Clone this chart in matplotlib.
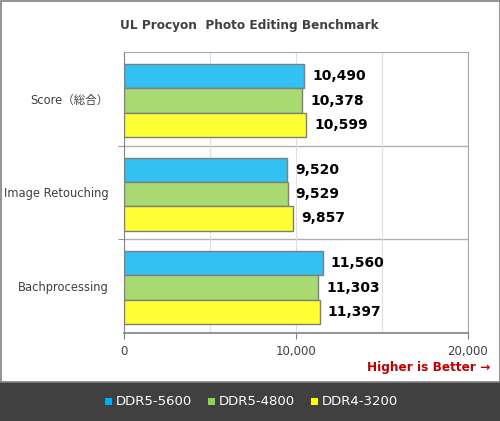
import matplotlib.pyplot as plt
import numpy as np
from matplotlib.patches import Rectangle

plt.rcParams['font.family'] = ['DejaVu Sans', 'Noto Sans CJK JP']

categories = ['Score（総合）', 'Image Retouching', 'Bachprocessing']
series = ['DDR5-5600', 'DDR5-4800', 'DDR4-3200']
ddr5_5600 = [10490, 9520, 11560]
ddr5_4800 = [10378, 9529, 11303]
ddr4_3200 = [10599, 9857, 11397]
values = [ddr5_5600, ddr5_4800, ddr4_3200]
bar_colors = ['#33C0F2', '#A9DA72', '#FFFF33']
legend_colors = ['#00B0F0', '#92D050', '#FFFF00']

fig = plt.figure(figsize=(5.0, 4.21), dpi=100)
W, H = 500, 421

# backgrounds: white chart area with border, dark legend band
fig.patches.append(Rectangle((0, 0), 1, 39 / H, transform=fig.transFigure,
                             facecolor='#404040', edgecolor='none', zorder=-10))
fig.patches.append(Rectangle((0.5 / W, 39 / H), 1 - 1 / W, 1 - 39.5 / H,
                             transform=fig.transFigure, facecolor='white',
                             edgecolor='#808080', lw=1.2, zorder=-10))

ax = fig.add_axes([123.5 / W, 1 - 332.5 / H, (468 - 123.5) / W, (332.5 - 52) / H])
ax.set_zorder(5)
ax.patch.set_alpha(0)
n = len(categories)
bh = 0.26
y = np.arange(n)
for i, (vals, col) in enumerate(zip(values, bar_colors)):
    pos = y + (i - 1) * bh + 0.02
    ax.barh(pos, vals, height=bh, color=col, edgecolor='#7f7f7f', lw=1.0, zorder=3)
    for p, v in zip(pos, vals):
        ax.text(v + 460, p, f'{v:,}', va='center', ha='left', fontsize=10,
                fontweight='bold', color='black', zorder=4)

ax.set_xlim(0, 20000)
ax.set_ylim(n - 0.5, -0.5)
ax.set_xticks([0, 10000, 20000])
ax.set_xticklabels(['0', '10,000', '20,000'], fontsize=8.5, color='#404040')
ax.set_xticks([5000, 15000], minor=True)
ax.set_yticks(y)
ax.set_yticklabels(categories, fontsize=8.3, color='#404040')
ax.tick_params(axis='y', length=0, pad=11)
ax.tick_params(axis='x', which='major', length=4, color='#808080', pad=5)
ax.tick_params(axis='x', which='minor', length=0)
ax.set_yticks([0.5, 1.5], minor=True)
ax.tick_params(axis='y', which='minor', length=4, color='#808080')
ax.grid(axis='x', which='both', color='#e0e0e0', lw=0.8, zorder=0)
for s in [0.5, 1.5]:
    ax.axhline(s, color='#b0b0b0', lw=1.0, zorder=1)
for side in ['top', 'right']:
    ax.spines[side].set_color('#a6a6a6')
for side in ['left', 'bottom']:
    ax.spines[side].set_color('#808080')
ax.spines['bottom'].set_linewidth(1.2)

fig.text(120 / W, 1 - 25 / H, 'UL Procyon  Photo Editing Benchmark', fontsize=8.7,
         fontweight='bold', color='#404040', ha='left', va='center')
fig.text(490 / W, 1 - 368 / H, 'Higher is Better →', fontsize=8.7, fontweight='bold',
         color='#C00000', ha='right', va='center')

# legend
xs = [105, 208, 311]
for xx, s, c in zip(xs, series, legend_colors):
    fig.patches.append(Rectangle((xx / W, 1 - 405 / H), 7 / W, 7 / H,
                                 transform=fig.transFigure, facecolor=c,
                                 edgecolor='none', zorder=2))
    fig.text((xx + 11) / W, 1 - 401.5 / H, s, fontsize=9.5, color='white',
             ha='left', va='center')

fig.savefig('out.png', dpi=100)
